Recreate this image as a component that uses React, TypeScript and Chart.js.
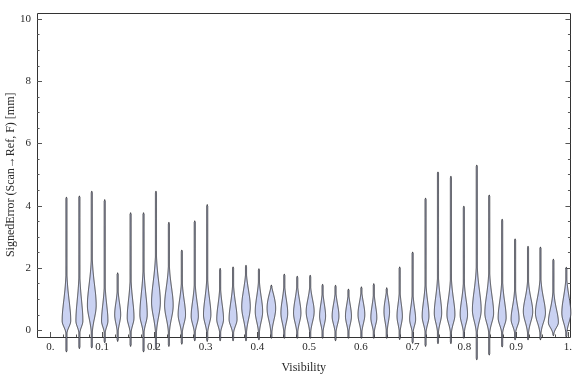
import React, { useEffect, useRef } from 'react';
import { Chart, registerables } from 'chart.js';
Chart.register(...registerables);

// Visibility bin centres (x)
const positions = [0.031, 0.056, 0.080, 0.105, 0.130, 0.155, 0.180, 0.204, 0.229, 0.254,
  0.279, 0.303, 0.328, 0.353, 0.378, 0.403, 0.427, 0.452, 0.477, 0.502,
  0.526, 0.551, 0.576, 0.601, 0.625, 0.650, 0.675, 0.700, 0.725, 0.749,
  0.774, 0.799, 0.824, 0.848, 0.873, 0.898, 0.923, 0.947, 0.972, 0.997];
// Max signed error per bin
const maxs = [4.27, 4.31, 4.46, 4.19, 1.84, 3.77, 3.77, 4.46, 3.46, 2.57,
  3.51, 4.03, 1.98, 2.03, 2.08, 1.97, 1.45, 1.80, 1.73, 1.76,
  1.47, 1.44, 1.32, 1.39, 1.49, 1.36, 2.03, 2.51, 4.24, 5.08,
  4.94, 3.98, 5.30, 4.34, 3.56, 2.93, 2.69, 2.67, 2.28, 2.02];
// Min signed error per bin
const mins = [-0.70, -0.59, -0.57, -0.40, -0.36, -0.52, -0.70, -0.60, -0.52, -0.45,
  -0.34, -0.36, -0.34, -0.34, -0.34, -0.31, -0.26, -0.26, -0.26, -0.26,
  -0.26, -0.34, -0.26, -0.26, -0.26, -0.26, -0.30, -0.42, -0.52, -0.43,
  -0.43, -0.26, -0.95, -0.80, -0.54, -0.31, -0.31, -0.31, -0.18, -0.23];
// Mode (most dense error value) per bin
const modes = [0.30, 0.30, 0.80, 0.30, 0.50, 0.40, 0.50, 0.90, 0.80, 0.50,
  0.45, 0.50, 0.35, 0.35, 0.75, 0.60, 0.70, 0.55, 0.55, 0.60,
  0.45, 0.45, 0.45, 0.50, 0.40, 0.60, 0.45, 0.35, 0.45, 0.55,
  0.50, 0.50, 0.65, 0.55, 0.40, 0.35, 0.60, 0.55, 0.25, 0.55];
// Relative peak density per bin
const peakDensity = [0.86, 0.70, 0.88, 0.64, 0.60, 0.68, 0.74, 0.88, 0.86, 0.74,
  0.72, 0.74, 0.68, 0.80, 0.86, 0.74, 0.86, 0.68, 0.74, 0.80,
  0.60, 0.68, 0.60, 0.68, 0.60, 0.56, 0.54, 0.60, 0.68, 0.74,
  0.80, 0.74, 0.88, 0.88, 0.80, 0.80, 0.94, 1.00, 1.00, 0.90];
// Upper spread of the main body per bin
const upperSpread = [0.70, 0.70, 0.70, 0.55, 0.40, 0.60, 0.70, 0.70, 0.60, 0.50,
  0.50, 0.55, 0.50, 0.55, 0.55, 0.50, 0.45, 0.45, 0.45, 0.40,
  0.40, 0.40, 0.38, 0.40, 0.40, 0.40, 0.40, 0.40, 0.50, 0.55,
  0.55, 0.50, 0.65, 0.60, 0.55, 0.45, 0.45, 0.50, 0.45, 0.55];

const xTicks = [0, 0.1, 0.2, 0.3, 0.4, 0.5, 0.6, 0.7, 0.8, 0.9, 1.0];
const xTickLabels = ['0.', '0.1', '0.2', '0.3', '0.4', '0.5', '0.6', '0.7', '0.8', '0.9', '1.'];
const yTicks = [0, 2, 4, 6, 8, 10];
const yTickLabels = ['0', '2', '4', '6', '8', '10'];

const X_MIN = -0.0259, X_MAX = 1.005, Y_MIN = -0.22, Y_MAX = 10.2;

const framePlugin = {
  id: 'frame',
  beforeDatasetsDraw(chart: any) {
    const { ctx, chartArea: a, scales } = chart;
    const xs = scales.x, ys = scales.y;
    ctx.save();
    ctx.strokeStyle = '#333';
    ctx.lineWidth = 1;
    ctx.beginPath();
    ctx.rect(Math.round(a.left) + 0.5, Math.round(a.top) + 0.5, Math.round(a.right - a.left), Math.round(a.bottom - a.top));
    ctx.stroke();
    ctx.strokeStyle = '#555';
    ctx.beginPath();
    for (let v = 0; v <= 10.001; v += 0.5) {
      const py = Math.round(ys.getPixelForValue(v)) + 0.5;
      const major = Math.abs(v / 2 - Math.round(v / 2)) < 1e-6;
      const len = major ? 5 : 2.5;
      ctx.moveTo(a.left, py); ctx.lineTo(a.left + len, py);
      ctx.moveTo(a.right, py); ctx.lineTo(a.right - len, py);
    }
    for (let i = 0; i <= 40; i++) {
      const v = i * 0.025;
      const px = Math.round(xs.getPixelForValue(v)) + 0.5;
      const len = i % 4 === 0 ? 5 : 2.5;
      ctx.moveTo(px, a.bottom); ctx.lineTo(px, a.bottom - len);
    }
    ctx.stroke();
    ctx.restore();
  },
};

const violinPlugin = {
  id: 'violins',
  afterDatasetsDraw(chart: any) {
    const { ctx, scales } = chart;
    const xs = scales.x, ys = scales.y;
    const maxHalf = 5;
    ctx.save();
    for (let i = 0; i < positions.length; i++) {
      const cx = xs.getPixelForValue(positions[i]);
      const m = modes[i], su = upperSpread[i], hi = maxs[i], lo = mins[i];
      const sl = (m + 0.12) / 2.2;
      const W = peakDensity[i] * maxHalf;
      const pTop = ys.getPixelForValue(hi);
      const pBot = ys.getPixelForValue(lo);
      const right: [number, number][] = [];
      const steps = Math.max(20, Math.ceil((pBot - pTop) * 2));
      for (let s = 0; s <= steps; s++) {
        const py = pTop + (pBot - pTop) * s / steps;
        const v = ys.getValueForPixel(py);
        let f: number;
        if (v >= m) {
          const z = (v - m) / su;
          const t = Math.min(1, (v - m) / (hi - m));
          f = (0.8 * Math.exp(-0.5 * z * z) + 0.2 / (1 + z * z)) * (1 - Math.pow(t, 4));
        } else {
          const z = (m - v) / sl;
          f = Math.exp(-0.5 * z * z);
        }
        let h = Math.max(W * f, 0.55);
        const endTaper = Math.min(s, steps - s) / 3;
        if (endTaper < 1) h *= Math.max(endTaper, 0.3);
        right.push([py, h]);
      }
      ctx.beginPath();
      right.forEach(([py, h], k) => {
        if (k === 0) ctx.moveTo(cx + h, py); else ctx.lineTo(cx + h, py);
      });
      for (let k = right.length - 1; k >= 0; k--) {
        const [py, h] = right[k];
        ctx.lineTo(cx - h, py);
      }
      ctx.closePath();
      ctx.fillStyle = 'rgb(202,210,242)';
      ctx.fill();
      ctx.strokeStyle = 'rgba(45,45,50,0.9)';
      ctx.lineWidth = 1;
      ctx.stroke();
    }
    ctx.restore();
  },
};

export default function App() {
  const ref = useRef<HTMLCanvasElement>(null);
  useEffect(() => {
    document.body.style.margin = '0';
    const canvas = ref.current!;
    const chart = new Chart(canvas, {
      type: 'scatter',
      data: {
        datasets: [{
          data: positions.map((p, i) => ({ x: p, y: maxs[i] })),
          pointRadius: 0,
          showLine: false,
        }],
      },
      options: {
        animation: false,
        responsive: false,
        devicePixelRatio: 1,
        layout: { padding: { top: 4, right: 1, left: 0, bottom: 0 } },
        plugins: { legend: { display: false }, tooltip: { enabled: false } },
        scales: {
          x: {
            type: 'linear',
            min: X_MIN, max: X_MAX,
            grid: { display: false, drawTicks: false },
            border: { display: false },
            afterBuildTicks: (s: any) => { s.ticks = xTicks.map((v) => ({ value: v })); },
            afterFit: (s: any) => { s.height = 40; },
            ticks: {
              padding: 4,
              maxRotation: 0,
              autoSkip: false,
              color: '#2a2a2a',
              font: { family: '"Liberation Serif", "Times New Roman", serif', size: 11 },
              callback: (v: any) => {
                const idx = xTicks.findIndex((t) => Math.abs(t - v) < 1e-9);
                return idx >= 0 ? xTickLabels[idx] : '';
              },
            },
            title: {
              display: true,
              text: 'Visibility',
              color: '#2a2a2a',
              padding: { top: 0, bottom: 2 },
              font: { family: '"Liberation Serif", "Times New Roman", serif', size: 12 },
            },
          },
          y: {
            type: 'linear',
            min: Y_MIN, max: Y_MAX,
            grid: { display: false, drawTicks: false },
            border: { display: false },
            afterBuildTicks: (s: any) => { s.ticks = yTicks.map((v) => ({ value: v })); },
            afterFit: (s: any) => { s.width = 37; },
            ticks: {
              padding: 6,
              autoSkip: false,
              color: '#2a2a2a',
              font: { family: '"Liberation Serif", "Times New Roman", serif', size: 11 },
              callback: (v: any) => {
                const idx = yTicks.findIndex((t) => Math.abs(t - v) < 1e-9);
                return idx >= 0 ? yTickLabels[idx] : '';
              },
            },
            title: {
              display: true,
              text: 'SignedError (Scan\u2192Ref, F) [mm]',
              color: '#2a2a2a',
              padding: { top: 4, bottom: 0 },
              font: { family: '"Liberation Serif", "Times New Roman", serif', size: 12 },
            },
          },
        },
      },
      plugins: [framePlugin, violinPlugin],
    });
    return () => chart.destroy();
  }, []);
  return <canvas ref={ref} width={576} height={377} style={{ display: 'block', width: 576, height: 377 }} />;
}
